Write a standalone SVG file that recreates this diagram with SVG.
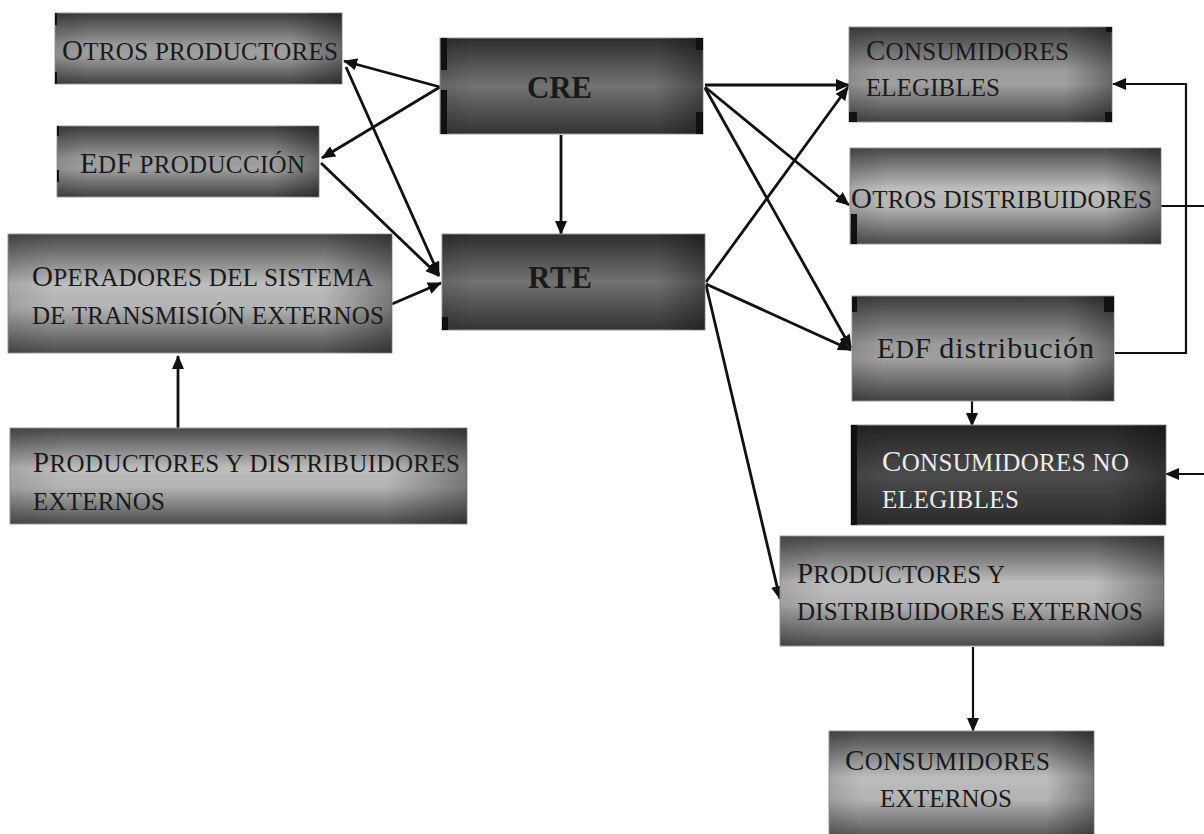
<svg xmlns="http://www.w3.org/2000/svg" width="1204" height="834" viewBox="0 0 1204 834">
<defs>
<linearGradient id="gA" x1="0" y1="0" x2="0" y2="1">
<stop offset="0" stop-color="#3c3c3c"/><stop offset="0.45" stop-color="#9a9a9a"/><stop offset="0.6" stop-color="#a0a0a0"/><stop offset="1" stop-color="#424242"/>
</linearGradient>
<linearGradient id="gB" x1="0" y1="0" x2="0" y2="1">
<stop offset="0" stop-color="#484848"/><stop offset="0.42" stop-color="#bdbdbd"/><stop offset="0.62" stop-color="#b3b3b3"/><stop offset="1" stop-color="#4c4c4c"/>
</linearGradient>
<linearGradient id="gC" x1="0" y1="0" x2="0" y2="1">
<stop offset="0" stop-color="#2e2e2e"/><stop offset="0.5" stop-color="#727272"/><stop offset="1" stop-color="#343434"/>
</linearGradient>
<linearGradient id="gD" x1="0" y1="0" x2="0" y2="1">
<stop offset="0" stop-color="#242424"/><stop offset="0.5" stop-color="#4c4c4c"/><stop offset="1" stop-color="#2a2a2a"/>
</linearGradient>
<linearGradient id="gS" x1="0" y1="0" x2="1" y2="0">
<stop offset="0" stop-color="#000" stop-opacity="0.12"/><stop offset="0.12" stop-color="#000" stop-opacity="0"/><stop offset="0.82" stop-color="#000" stop-opacity="0"/><stop offset="1" stop-color="#000" stop-opacity="0.35"/>
</linearGradient>
<marker id="ah" viewBox="0 0 14 12" refX="13" refY="6" markerWidth="14" markerHeight="12" orient="auto" markerUnits="userSpaceOnUse">
<path d="M0,0 L14,6 L0,12 z" fill="#111"/>
</marker>
</defs>
<style>
.box{stroke:#9a9a9a;stroke-width:1}
.sh{fill:url(#gS)}
.mk{fill:#111}
.t{font-family:"Liberation Serif","Times New Roman",serif;font-size:25px;fill:#1a1a1a}
.w{fill:#ececec}
.c{font-size:29px}
.lc{font-size:30px}
.b{font-family:"Liberation Serif","Times New Roman",serif;font-size:31px;font-weight:bold;fill:#1a1a1a}
.ln{stroke:#111;stroke-width:2.8;fill:none}
.ln2{stroke:#111;stroke-width:2.2;fill:none}
.a{marker-end:url(#ah)}
</style>
<rect width="1204" height="834" fill="#fff"/>

<g id="connectors">
<line class="ln a" x1="440" y1="87" x2="344" y2="61"/>
<line class="ln a" x1="440" y1="87" x2="322" y2="158"/>
<line class="ln a" x1="346" y1="67" x2="439" y2="275"/>
<line class="ln a" x1="321" y1="163" x2="439" y2="276"/>
<line class="ln a" x1="392" y1="304" x2="441" y2="283"/>
<line class="ln a" x1="561" y1="135" x2="561" y2="234"/>
<line class="ln a" x1="178" y1="428" x2="178" y2="356"/>
<line class="ln a" x1="705" y1="85" x2="849" y2="85"/>
<line class="ln a" x1="705" y1="87" x2="849" y2="205"/>
<line class="ln a" x1="705" y1="88" x2="851" y2="348"/>
<line class="ln a" x1="706" y1="282" x2="848" y2="87"/>
<line class="ln a" x1="706" y1="284" x2="851" y2="350"/>
<line class="ln a" x1="706" y1="285" x2="780" y2="599"/>
<polyline class="ln2 a" points="1115,353 1186,353 1186,84 1113,84"/>
<line class="ln2" x1="1161" y1="206" x2="1204" y2="206"/>
<line class="ln2 a" x1="1204" y1="474" x2="1166" y2="474"/>
<line class="ln2 a" x1="972" y1="401" x2="972" y2="426"/>
<line class="ln2 a" x1="973" y1="647" x2="973" y2="731"/>
</g>

<g id="n-otros-productores">
<rect class="box" x="55" y="13" width="287" height="71" fill="url(#gA)"/>
<rect class="sh" x="55" y="13" width="287" height="71"/>
<rect class="mk" x="55" y="13" width="2" height="12"/><rect class="mk" x="55" y="72" width="2" height="12"/>
<text class="t" x="62" y="60" textLength="276"><tspan class="c">O</tspan>TROS PRODUCTORES</text>
</g>

<g id="n-edf-produccion">
<rect class="box" x="57" y="126" width="262" height="71" fill="url(#gA)"/>
<rect class="sh" x="57" y="126" width="262" height="71"/>
<rect class="mk" x="57" y="126" width="2" height="10"/><rect class="mk" x="57" y="170" width="2" height="12"/>
<text class="t" x="80" y="173" textLength="225"><tspan class="c">E</tspan>D<tspan class="c">F</tspan> PRODUCCIÓN</text>
</g>

<g id="n-operadores">
<rect class="box" x="8" y="234" width="384" height="119" fill="url(#gB)"/>
<rect class="sh" x="8" y="234" width="384" height="119"/>
<text class="t" x="32" y="286" textLength="341"><tspan class="c">O</tspan>PERADORES DEL SISTEMA</text>
<text class="t" x="32" y="324" textLength="352">DE TRANSMISIÓN EXTERNOS</text>
</g>

<g id="n-productores-izq">
<rect class="box" x="10" y="428" width="457" height="96" fill="url(#gB)"/>
<rect class="sh" x="10" y="428" width="457" height="96"/>
<text class="t" x="33" y="472" textLength="427"><tspan class="c">P</tspan>RODUCTORES Y DISTRIBUIDORES</text>
<text class="t" x="33" y="510" textLength="132">EXTERNOS</text>
</g>

<g id="n-cre">
<rect class="box" x="440" y="38" width="263" height="96" fill="url(#gC)"/>
<rect class="sh" x="440" y="38" width="263" height="96"/>
<rect class="mk" x="441" y="38" width="6" height="32"/><rect class="mk" x="441" y="90" width="6" height="44"/>
<rect class="mk" x="696" y="38" width="7" height="12"/><rect class="mk" x="696" y="112" width="7" height="22"/>
<text class="b" x="527" y="98" textLength="65">CRE</text>
</g>

<g id="n-rte">
<rect class="box" x="442" y="234" width="263" height="96" fill="url(#gC)"/>
<rect class="sh" x="442" y="234" width="263" height="96"/>
<rect class="mk" x="442" y="317" width="6" height="13"/>
<text class="b" x="528" y="288" textLength="64">RTE</text>
</g>

<g id="n-consumidores-elegibles">
<rect class="box" x="849" y="27" width="263" height="95" fill="url(#gA)"/>
<rect class="sh" x="849" y="27" width="263" height="95"/>
<rect class="mk" x="849" y="112" width="8" height="10"/><rect class="mk" x="1105" y="112" width="7" height="10"/><rect class="mk" x="1106" y="27" width="6" height="5"/>
<text class="t" x="866" y="60" textLength="203"><tspan class="c">C</tspan>ONSUMIDORES</text>
<text class="t" x="866" y="96" textLength="134">ELEGIBLES</text>
</g>

<g id="n-otros-distribuidores">
<rect class="box" x="850" y="148" width="311" height="96" fill="url(#gB)"/>
<rect class="sh" x="850" y="148" width="311" height="96"/>
<rect class="mk" x="851" y="214" width="6" height="30"/>
<text class="t" x="851" y="208" textLength="301"><tspan class="c">O</tspan>TROS DISTRIBUIDORES</text>
</g>

<g id="n-edf-distribucion">
<rect class="box" x="852" y="296" width="262" height="105" fill="url(#gA)"/>
<rect class="sh" x="852" y="296" width="262" height="105"/>
<rect class="mk" x="852" y="297" width="5" height="15"/><rect class="mk" x="1104" y="297" width="10" height="15"/>
<text class="t" x="877" y="358" textLength="217"><tspan class="c">E</tspan>D<tspan class="c">F</tspan> <tspan class="lc">distribución</tspan></text>
</g>

<g id="n-consumidores-no-elegibles">
<rect class="box" x="851" y="425" width="315" height="100" fill="url(#gD)"/>
<rect class="sh" x="851" y="425" width="315" height="100"/>
<rect class="mk" x="851" y="425" width="6" height="100"/>
<text class="t w" x="882" y="471" textLength="247"><tspan class="c">C</tspan>ONSUMIDORES NO</text>
<text class="t w" x="882" y="508" textLength="137">ELEGIBLES</text>
</g>

<g id="n-productores-der">
<rect class="box" x="780" y="536" width="384" height="110" fill="url(#gB)"/>
<rect class="sh" x="780" y="536" width="384" height="110"/>
<text class="t" x="797" y="583" textLength="208"><tspan class="c">P</tspan>RODUCTORES Y</text>
<text class="t" x="797" y="620" textLength="346">DISTRIBUIDORES EXTERNOS</text>
</g>

<g id="n-consumidores-externos">
<rect class="box" x="829" y="731" width="265" height="110" fill="url(#gB)"/>
<rect class="sh" x="829" y="731" width="265" height="110"/>
<text class="t" x="845" y="770" textLength="205"><tspan class="c">C</tspan>ONSUMIDORES</text>
<text class="t" x="880" y="807" textLength="132">EXTERNOS</text>
</g>
</svg>
